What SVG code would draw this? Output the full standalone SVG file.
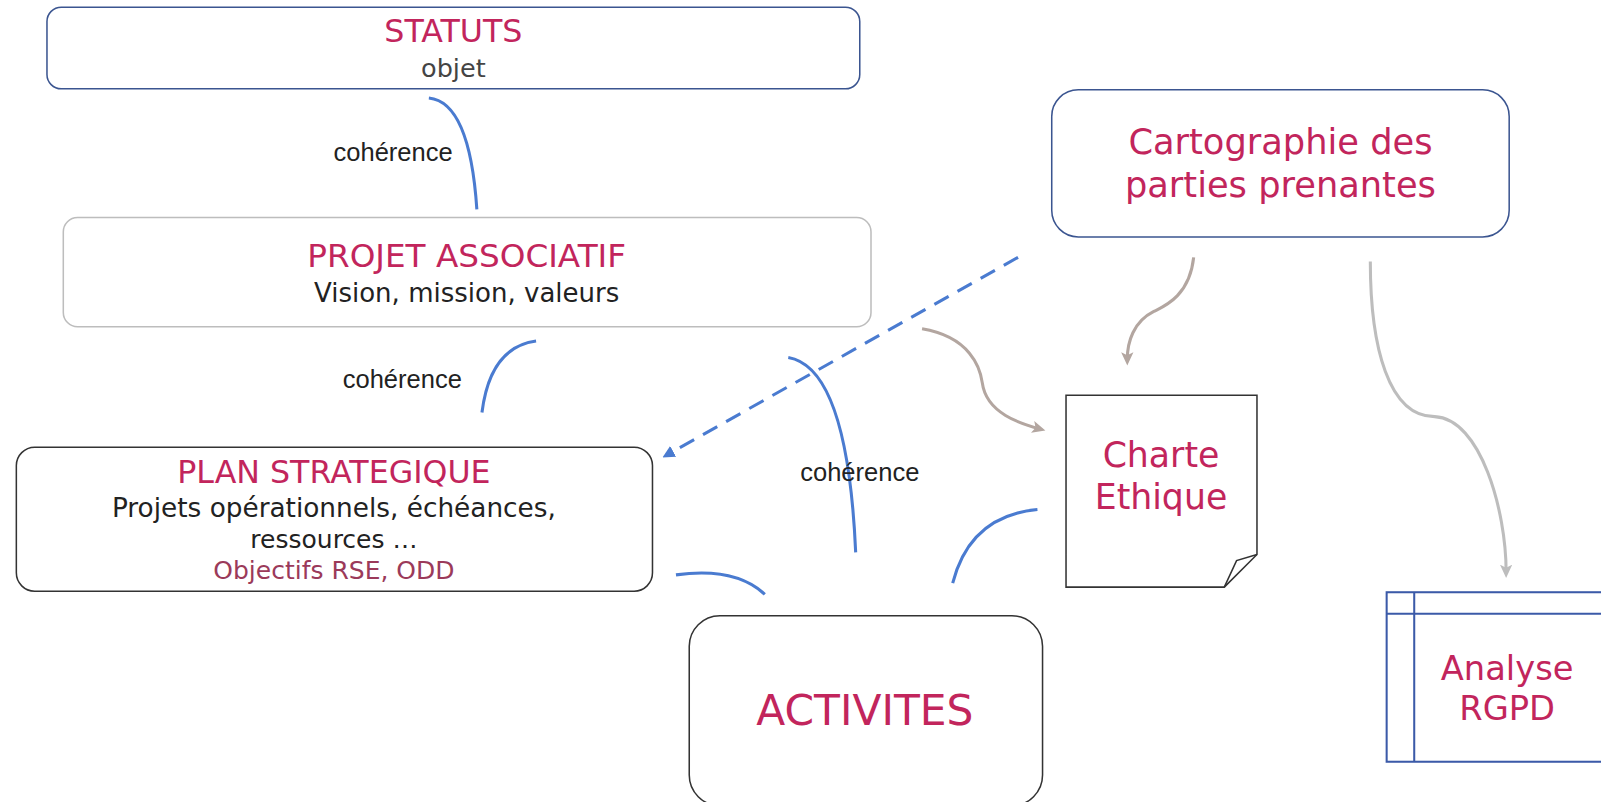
<svg xmlns="http://www.w3.org/2000/svg" width="1601" height="802" viewBox="0 0 1601 802">
<style>
.t{font-family:"DejaVu Sans","Open Sans",sans-serif;text-anchor:middle}
.pk{fill:#c2255c}
.dk{fill:#222}
.lbl{font-family:"Liberation Sans",Arial,sans-serif;font-size:25px;fill:#222;text-anchor:middle}
.blue{fill:none;stroke:#4a7bd0;stroke-width:3}
</style>
<defs>
<marker id="ab" markerWidth="12" markerHeight="12" refX="6" refY="6" orient="auto" markerUnits="userSpaceOnUse"><path d="M0,0 L12,6 L0,12 Z" fill="#4a7bd0"/></marker>
<marker id="abr" markerWidth="14" markerHeight="14" refX="7" refY="7" orient="auto" markerUnits="userSpaceOnUse"><path d="M0,1 L13,7 L0,13 L3,7 Z" fill="#b3a6a0"/></marker>
<marker id="agr" markerWidth="14" markerHeight="14" refX="7" refY="7" orient="auto" markerUnits="userSpaceOnUse"><path d="M0,1 L13,7 L0,13 L3,7 Z" fill="#bdbdbd"/></marker>
</defs>
<rect width="1601" height="802" fill="#fff"/>
<g transform="scale(1.0211)">

<g id="statuts">
<rect x="46" y="7" width="796" height="80" rx="14" fill="#fff" stroke="#3b5590" stroke-width="1.5"/>
<text class="t pk" x="444" y="41" font-size="31">STATUTS</text>
<text class="t" x="444" y="75" font-size="25" fill="#444">objet</text>
</g>

<g id="projet">
<rect x="62" y="213" width="791" height="107" rx="14" fill="#fff" stroke="#bdbdbd" stroke-width="1.5"/>
<text class="t pk" x="457" y="261" font-size="32">PROJET ASSOCIATIF</text>
<text class="t dk" x="457" y="296" font-size="25.5">Vision, mission, valeurs</text>
</g>

<g id="plan">
<rect x="16" y="438" width="623" height="141" rx="18" fill="#fff" stroke="#333" stroke-width="1.5"/>
<text class="t pk" x="327" y="473" font-size="31">PLAN STRATEGIQUE</text>
<text class="t dk" x="327" y="506" font-size="25.8">Projets opérationnels, échéances,</text>
<text class="t dk" x="327" y="537" font-size="24.5">ressources …</text>
<text class="t" x="327" y="567" font-size="24.5" fill="#9b3a5a">Objectifs RSE, ODD</text>
</g>

<g id="cartographie">
<rect x="1030" y="88" width="448" height="144" rx="26" fill="#fff" stroke="#3b5590" stroke-width="1.5"/>
<text class="t pk" x="1254" y="151" font-size="34.5">Cartographie des</text>
<text class="t pk" x="1254" y="193" font-size="34.5">parties prenantes</text>
</g>

<g id="charte">
<path d="M1044,387 H1231 V543 L1199,575 H1044 Z" fill="#fff" stroke="#333" stroke-width="1.5"/>
<path d="M1231,543 L1211,549 L1199,575" fill="none" stroke="#333" stroke-width="1.5"/>
<text class="t pk" x="1137" y="457" font-size="34">Charte</text>
<text class="t pk" x="1137" y="498" font-size="34">Ethique</text>
</g>

<g id="rgpd">
<rect x="1358" y="580" width="260" height="166" fill="#fff" stroke="#3b5aa8" stroke-width="2"/>
<line x1="1385" y1="580" x2="1385" y2="746" stroke="#3b5aa8" stroke-width="2"/>
<line x1="1358" y1="601" x2="1601" y2="601" stroke="#3b5aa8" stroke-width="2"/>
<text class="t pk" x="1476" y="666" font-size="33">Analyse</text>
<text class="t pk" x="1476" y="705" font-size="33">RGPD</text>
</g>

<g id="activites">
<rect x="675" y="603" width="346" height="186" rx="30" fill="#fff" stroke="#333" stroke-width="1.5"/>
<text class="t pk" x="847" y="710" font-size="41.5">ACTIVITES</text>
</g>

<g id="connectors">
<path class="blue" d="M420,96 Q460,100 467,205"/>
<path class="blue" d="M525,334 Q480,340 472,404"/>
<path class="blue" d="M772,350 Q830,360 838,541"/>
<path class="blue" d="M1016,499 Q950,505 933,571"/>
<path class="blue" d="M662,563 Q720,555 749,582"/>
<path d="M997,252 L654,445" fill="none" stroke="#4a7bd0" stroke-width="3" stroke-dasharray="16,10" marker-end="url(#ab)"/>
<path d="M903,322 C950,330 960,360 962,375 C966,405 1000,415 1018,420" fill="none" stroke="#b3a6a0" stroke-width="3" marker-end="url(#abr)"/>
<path d="M1169,252 C1165,290 1140,300 1130,305 C1110,315 1104,335 1104,352" fill="none" stroke="#b3a6a0" stroke-width="3" marker-end="url(#abr)"/>
<path d="M1342,256 C1342,340 1360,408 1405,408 C1450,410 1475,500 1475,560" fill="none" stroke="#bdbdbd" stroke-width="3" marker-end="url(#agr)"/>
</g>

<g id="labels">
<text class="lbl" x="385" y="158">cohérence</text>
<text class="lbl" x="394" y="380">cohérence</text>
<text class="lbl" x="842" y="471">cohérence</text>
</g>
</g>
</svg>
